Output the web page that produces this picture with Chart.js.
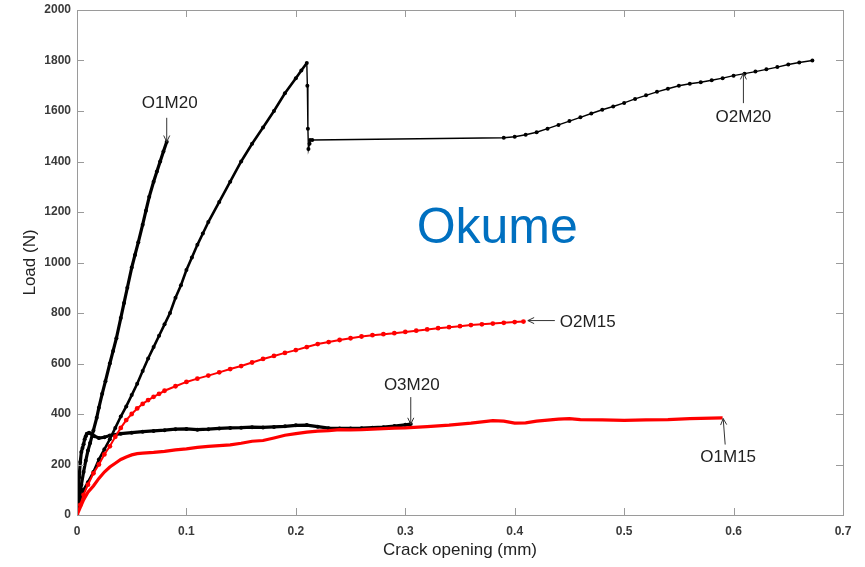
<!DOCTYPE html>
<html>
<head>
<meta charset="utf-8">
<script src="https://cdn.jsdelivr.net/npm/chart.js@4.4.1/dist/chart.umd.min.js"></script>
<style>
  html, body { margin: 0; padding: 0; background: #fff; }
  #wrap { width: 865px; height: 567px; }
</style>
</head>
<body>
<div id="wrap"><canvas id="c" width="865" height="567"></canvas></div>
<script>
// Axis ticks
const xTicks = [0, 0.1, 0.2, 0.3, 0.4, 0.5, 0.6, 0.7];
const yTicks = [0, 200, 400, 600, 800, 1000, 1200, 1400, 1600, 1800, 2000];

// Load vs crack opening, one pair of arrays per specimen
const o1m20X = [0, 0.002, 0.004, 0.006, 0.008, 0.01, 0.012, 0.015, 0.018, 0.02, 0.023, 0.026, 0.03, 0.033, 0.036, 0.04, 0.043, 0.046, 0.05, 0.053, 0.056, 0.06, 0.063, 0.066, 0.07, 0.073, 0.076, 0.079, 0.082];
const o1m20Y = [0, 60, 120, 170, 215, 255, 285, 335, 385, 425, 480, 530, 600, 650, 700, 780, 840, 900, 980, 1030, 1080, 1150, 1205, 1260, 1320, 1360, 1400, 1440, 1478];

const o2m20X = [0, 0.003, 0.006, 0.01, 0.015, 0.02, 0.025, 0.03, 0.035, 0.04, 0.045, 0.05, 0.055, 0.06, 0.065, 0.07, 0.075, 0.08, 0.085, 0.09, 0.095, 0.1, 0.105, 0.11, 0.115, 0.12, 0.13, 0.14, 0.15, 0.16, 0.17, 0.18, 0.19, 0.2, 0.205, 0.21,
  0.2105, 0.211, 0.2115, 0.2125, 0.213, 0.215, 0.39, 0.4, 0.41, 0.42, 0.43, 0.44, 0.45, 0.46, 0.47, 0.48, 0.49, 0.5, 0.51, 0.52, 0.53, 0.54, 0.55, 0.56, 0.57, 0.58, 0.59, 0.6, 0.61, 0.62, 0.63, 0.64, 0.65, 0.66, 0.672];
const o2m20Y = [0, 60, 100, 130, 170, 220, 260, 300, 345, 390, 430, 475, 520, 570, 620, 665, 710, 755, 800, 860, 910, 970, 1020, 1070, 1115, 1160, 1240, 1320, 1400, 1470, 1535, 1600, 1670, 1730, 1760, 1790,
  1700, 1530, 1450, 1470, 1485, 1485, 1494, 1498, 1506, 1516, 1530, 1545, 1560, 1575, 1590, 1605, 1618, 1632, 1648, 1662, 1676, 1688, 1700, 1708, 1714, 1722, 1730, 1740, 1748, 1756, 1765, 1774, 1784, 1792, 1800];

const o3m20X = [0, 0.001, 0.002, 0.003, 0.004, 0.005, 0.006, 0.007, 0.008, 0.009, 0.011, 0.013, 0.016, 0.02, 0.025, 0.03, 0.04, 0.05, 0.06, 0.07, 0.08, 0.09, 0.1, 0.11, 0.12, 0.13, 0.14, 0.15, 0.16, 0.17, 0.18, 0.19, 0.2, 0.21, 0.22, 0.23, 0.24, 0.25, 0.26, 0.27, 0.28, 0.29, 0.3, 0.305];
const o3m20Y = [0, 80, 150, 210, 250, 265, 280, 300, 312, 322, 326, 322, 312, 305, 308, 315, 322, 326, 330, 333, 336, 340, 341, 338, 340, 343, 345, 346, 348, 347, 349, 351, 355, 356, 350, 344, 343, 343, 344, 346, 348, 352, 357, 360];

const o1m15X = [0, 0.003, 0.006, 0.01, 0.015, 0.02, 0.025, 0.03, 0.035, 0.04, 0.045, 0.05, 0.055, 0.06, 0.07, 0.08, 0.09, 0.1, 0.11, 0.12, 0.13, 0.14, 0.15, 0.16, 0.17, 0.18, 0.19, 0.2, 0.21, 0.22, 0.23, 0.24, 0.25, 0.26, 0.27, 0.28, 0.29, 0.3, 0.32, 0.34, 0.36, 0.38, 0.39, 0.4, 0.41, 0.42, 0.44, 0.45, 0.46, 0.48, 0.5, 0.52, 0.54, 0.56, 0.58, 0.59];
const o1m15Y = [0, 30, 60, 90, 115, 145, 170, 190, 205, 220, 230, 238, 243, 245, 248, 252, 258, 262, 268, 272, 275, 278, 284, 292, 295, 305, 316, 322, 328, 332, 334, 338, 337, 338, 340, 342, 344, 345, 350, 356, 364, 374, 372, 364, 365, 372, 380, 382, 378, 377, 375, 377, 378, 382, 384, 385];

const o2m15X = [0, 0.003, 0.006, 0.01, 0.015, 0.02, 0.025, 0.03, 0.035, 0.04, 0.045, 0.05, 0.055, 0.06, 0.065, 0.07, 0.075, 0.08, 0.09, 0.1, 0.11, 0.12, 0.13, 0.14, 0.15, 0.16, 0.17, 0.18, 0.19, 0.2, 0.21, 0.22, 0.23, 0.24, 0.25, 0.26, 0.27, 0.28, 0.29, 0.3, 0.31, 0.32, 0.33, 0.34, 0.35, 0.36, 0.37, 0.38, 0.39, 0.4, 0.408];
const o2m15Y = [0, 40, 80, 120, 165, 200, 240, 272, 310, 345, 376, 400, 422, 440, 455, 468, 480, 492, 510, 527, 540, 552, 565, 578, 590, 604, 618, 630, 642, 653, 665, 677, 685, 693, 700, 707, 712, 716, 720, 725, 730, 735, 740, 744, 748, 752, 755, 758, 761, 764, 766];

// Specimen labels and the curve point each arrow points at
const labelNames = ['O1M20', 'O2M20', 'O2M15', 'O3M20', 'O1M15'];
const labelTipX = [0.082, 0.609, 0.412, 0.305, 0.5905];
const labelTipY = [1478, 1750, 770, 360, 382];

const toPoints = (xs, ys) => xs.map((x, i) => ({ x, y: ys[i] }));

// Arrow direction and text placement relative to the arrow tip (px)
const labelLayout = {
  O1M20: { tail: [0, -24], text: [3, -38], align: 'center' },
  O2M20: { tail: [0, 30], text: [0, 44], align: 'center' },
  O2M15: { tail: [27, 0], text: [32, 2], align: 'left' },
  O3M20: { tail: [0, -27], text: [1, -39], align: 'center' },
  O1M15: { tail: [2, 26], text: [5, 39], align: 'center' }
};

const frameAndTicks = {
  id: 'frameAndTicks',
  afterDatasetsDraw(chart) {
    const { ctx, chartArea: a, scales } = chart;
    ctx.save();
    ctx.strokeStyle = '#9a9a9a';
    ctx.lineWidth = 1;
    ctx.strokeRect(a.left + 0.5, a.top + 0.5, a.right - a.left, a.bottom - a.top);
    ctx.beginPath();
    const tl = 7;
    xTicks.forEach(v => {
      const px = Math.round(scales.x.getPixelForValue(v)) + 0.5;
      ctx.moveTo(px, a.bottom); ctx.lineTo(px, a.bottom - tl);
      ctx.moveTo(px, a.top); ctx.lineTo(px, a.top + tl);
    });
    yTicks.forEach(v => {
      const py = Math.round(scales.y.getPixelForValue(v)) + 0.5;
      ctx.moveTo(a.left, py); ctx.lineTo(a.left + tl, py);
      ctx.moveTo(a.right, py); ctx.lineTo(a.right - tl, py);
    });
    ctx.stroke();
    ctx.restore();
  }
};

const annotations = {
  id: 'annotations',
  afterDraw(chart) {
    const { ctx, scales } = chart;
    ctx.save();
    // Big wood species title inside the plot
    ctx.fillStyle = '#0070C0';
    ctx.font = '50px "Liberation Sans", Arial, sans-serif';
    ctx.textAlign = 'center';
    ctx.textBaseline = 'middle';
    ctx.fillText('Okume', scales.x.getPixelForValue(0.384), scales.y.getPixelForValue(1130));

    ctx.font = '17px "Liberation Sans", Arial, sans-serif';
    ctx.fillStyle = '#222';
    ctx.strokeStyle = '#333';
    ctx.lineWidth = 1;
    labelNames.forEach((name, i) => {
      const L = labelLayout[name];
      const tx = scales.x.getPixelForValue(labelTipX[i]);
      const ty = scales.y.getPixelForValue(labelTipY[i]);
      const sx = tx + L.tail[0], sy = ty + L.tail[1];
      ctx.beginPath();
      ctx.moveTo(sx, sy); ctx.lineTo(tx, ty);
      const ang = Math.atan2(ty - sy, tx - sx);
      const h = 7, w = 0.45;
      ctx.moveTo(tx - h * Math.cos(ang - w), ty - h * Math.sin(ang - w));
      ctx.lineTo(tx, ty);
      ctx.lineTo(tx - h * Math.cos(ang + w), ty - h * Math.sin(ang + w));
      ctx.stroke();
      ctx.textAlign = L.align;
      ctx.textBaseline = 'middle';
      ctx.fillText(name, tx + L.text[0], ty + L.text[1]);
    });
    ctx.restore();
  }
};

const baseSet = { showLine: true, tension: 0, fill: false, pointHoverRadius: 0, pointBorderWidth: 0 };
const tickFont = { family: '"Liberation Sans", Arial, sans-serif', size: 12, weight: 'bold' };
const titleFont = { family: '"Liberation Sans", Arial, sans-serif', size: 17 };

new Chart(document.getElementById('c'), {
  type: 'scatter',
  data: {
    datasets: [
      { ...baseSet, label: 'O1M15', data: toPoints(o1m15X, o1m15Y), borderColor: '#ff0000', backgroundColor: '#ff0000', borderWidth: 3.2, pointRadius: 0 },
      { ...baseSet, label: 'O2M15', data: toPoints(o2m15X, o2m15Y), borderColor: '#ff0000', backgroundColor: '#ff0000', borderWidth: 2, pointRadius: 2.4 },
      { ...baseSet, label: 'O3M20', data: toPoints(o3m20X, o3m20Y), borderColor: '#000', backgroundColor: '#000', borderWidth: 3.2, pointRadius: 2 },
      { ...baseSet, label: 'O1M20', data: toPoints(o1m20X, o1m20Y), borderColor: '#000', backgroundColor: '#000', borderWidth: 3.2, pointRadius: 2 },
      { ...baseSet, label: 'O2M20', data: toPoints(o2m20X, o2m20Y), borderColor: '#000', backgroundColor: '#000', borderWidth: 2.6, pointRadius: 2,
        segment: { borderWidth: c => (c.p0.parsed.x >= 0.2095 ? 1.4 : 2.6) } }
    ]
  },
  options: {
    responsive: false,
    devicePixelRatio: 1,
    animation: false,
    layout: { padding: { top: 10, right: 22, left: 0, bottom: 0 } },
    plugins: { legend: { display: false }, tooltip: { enabled: false } },
    scales: {
      x: {
        type: 'linear', min: 0, max: 0.7,
        afterBuildTicks: s => { s.ticks = xTicks.map(v => ({ value: v })); },
        afterFit: s => { s.height = 52; s.paddingLeft = 0; s.paddingRight = 0; },
        grid: { display: false, drawTicks: false },
        border: { display: false },
        ticks: { color: '#3a3a3a', padding: 9, font: tickFont, callback: v => String(v) },
        title: { display: true, text: 'Crack opening (mm)', color: '#222', padding: { top: 4, bottom: 6 }, font: titleFont }
      },
      y: {
        type: 'linear', min: 0, max: 2000,
        afterBuildTicks: s => { s.ticks = yTicks.map(v => ({ value: v })); },
        afterFit: s => { s.width = 77; s.paddingTop = 0; s.paddingBottom = 0; },
        grid: { display: false, drawTicks: false },
        border: { display: false },
        ticks: { color: '#3a3a3a', padding: 6, font: tickFont, callback: v => String(v) },
        title: { display: true, text: 'Load (N)', color: '#222', padding: { top: 20, bottom: 0 }, font: titleFont }
      }
    }
  },
  plugins: [frameAndTicks, annotations]
});
</script>
</body>
</html>
